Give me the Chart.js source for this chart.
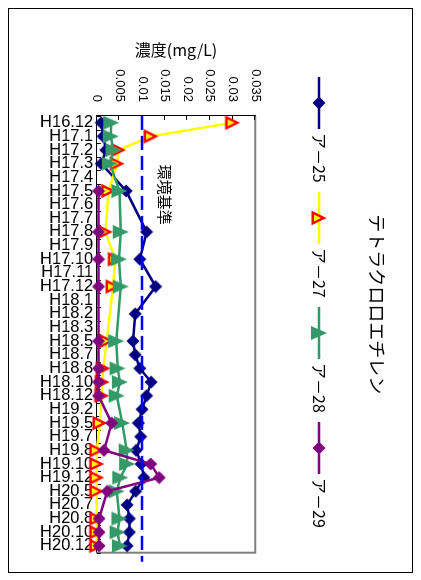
<!DOCTYPE html>
<html><head><meta charset="utf-8">
<script src="https://cdn.jsdelivr.net/npm/chart.js@4.4.1/dist/chart.umd.min.js"></script>
<style>
html,body{margin:0;padding:0;background:#fff;}
#page{position:relative;width:421px;height:580px;overflow:hidden;background:#fff;}
#rot{position:absolute;left:0;top:0;width:580px;height:421px;transform-origin:0 0;transform:translate(421px,0) rotate(90deg);}
#frame{position:absolute;left:8px;top:8px;width:403px;height:563px;border:1px solid #000;pointer-events:none;}
</style></head>
<body><div id="page"><div id="rot"><canvas id="c" width="580" height="421"></canvas></div><div id="frame"></div></div>
<script>
const chartTitle = 'テトラクロロエチレン';
const valueAxisTitle = '濃度(mg/L)';
const categories = ['H16.12','H17.1','H17.2','H17.3','H17.4','H17.5','H17.6','H17.7','H17.8','H17.9','H17.10','H17.11','H17.12','H18.1','H18.2','H18.3','H18.5','H18.7','H18.8','H18.10','H18.12','H19.2','H19.5','H19.7','H19.8','H19.10','H19.12','H20.5','H20.7','H20.8','H20.10','H20.12'];
const seriesNames = ['ア－25','ア－27','ア－28','ア－29'];
const a25 = [0.001,0.0014,0.002,0.001,null,0.0065,null,null,0.011,null,0.0095,null,0.013,null,0.0085,null,0.008,0.0085,0.0095,0.012,0.011,0.01,0.0092,0.0097,0.0087,0.0098,0.0104,0.0086,0.0067,0.0072,0.0072,0.0067];
const a27 = [0.03,0.012,0.0048,0.0045,null,0.0026,null,null,0.0019,null,0.0041,null,0.0036,null,null,null,0.0022,null,0.0014,0.0012,0.0011,null,0.0007,null,0,0,0,0,null,0,0,0];
const a28 = [0.0032,0.0031,0.0037,0.0029,null,0.005,null,null,0.0053,null,0.0049,null,0.0053,null,null,null,0.0043,null,0.0046,0.0051,0.0044,null,0.0056,null,0.0066,0.0067,0.0052,0.0044,null,0.005,0.0046,0.0051];
const a29 = [null,null,null,null,null,0.0004,null,null,0.0004,null,0.0004,null,0.0004,null,null,null,0.0004,null,0.0004,0.0004,0.0004,null,0.0033,null,0.0016,0.0119,0.0138,0.0023,null,0.0005,0.0005,0.0005];
const standardValue = 0.01;
const standardLabel = '環境基準';
const valueTicks = ['0','0.005','0.01','0.015','0.02','0.025','0.03','0.035'];

const CJK = '"Noto Sans CJK JP"';
const LAT = '"Liberation Sans"';

function makeDiamond(color){
  const c=document.createElement('canvas');c.width=14;c.height=14;
  const g=c.getContext('2d');g.beginPath();g.moveTo(7,0.5);g.lineTo(13.5,7);g.lineTo(7,13.5);g.lineTo(0.5,7);g.closePath();
  g.fillStyle=color;g.fill();return c;
}
function makeTriFill(color){
  const c=document.createElement('canvas');c.width=16;c.height=18;
  const g=c.getContext('2d');g.beginPath();g.moveTo(8,1);g.lineTo(15,17);g.lineTo(1,17);g.closePath();
  g.fillStyle=color;g.fill();return c;
}
function makeTriOutline(fill,stroke){
  const c=document.createElement('canvas');c.width=16;c.height=18;
  const g=c.getContext('2d');g.beginPath();g.moveTo(8,4.2);g.lineTo(13.4,15.3);g.lineTo(2.6,15.3);g.closePath();
  g.fillStyle=fill;g.fill();g.lineWidth=2.4;g.lineJoin='miter';g.strokeStyle=stroke;g.stroke();return c;
}
function makeLegendIcon(lineColor, marker){
  const c=document.createElement('canvas');c.width=52;c.height=18;
  const g=c.getContext('2d');g.strokeStyle=lineColor;g.lineWidth=2.5;
  g.beginPath();g.moveTo(0,9);g.lineTo(52,9);g.stroke();
  g.drawImage(marker,26-marker.width/2,9-marker.height/2);return c;
}

const lineColors = ['#000080','#FFFF00','#339966','#800080'];
const markers = [makeDiamond('#000080'), makeTriOutline('#FFFF00','#FF0000'), makeTriFill('#339966'), makeDiamond('#800080')];
const legendIcons = markers.map((m,i)=>makeLegendIcon(lineColors[i], m));
const seriesData = [a25, a27, a28, a29];

const datasets = seriesData.map((d,i)=>({
  label: seriesNames[i], data: d, xAxisID:'x', yAxisID:'y',
  borderColor: lineColors[i], backgroundColor: lineColors[i], borderWidth: 2.5,
  pointStyle: markers[i], pointRadius: 7, pointHoverRadius: 7,
  spanGaps: true, clip: false, tension: 0, order: 4 - i
}));

const decor = {
  id: 'decor',
  beforeDatasetsDraw(chart){
    const {ctx, chartArea:a, scales:{x,y}} = chart;
    ctx.save();
    ctx.strokeStyle='#808080'; ctx.lineWidth=2;
    ctx.beginPath(); ctx.moveTo(a.left,a.top); ctx.lineTo(a.right,a.top); ctx.lineTo(a.right,a.bottom+0.5); ctx.stroke();
    ctx.strokeStyle='#000'; ctx.lineWidth=1;
    ctx.beginPath();
    y.ticks.forEach(t=>{const p=Math.round(y.getPixelForValue(t.value))+0.5; ctx.moveTo(a.left,p); ctx.lineTo(a.left+4,p);});
    const step = x.getPixelForValue(1)-x.getPixelForValue(0);
    for(let i=0;i<=categories.length;i++){const p=Math.round(x.getPixelForValue(0)+(i-0.5)*step)+0.5; ctx.moveTo(p,a.bottom); ctx.lineTo(p,a.bottom-4);}
    ctx.stroke();
    ctx.restore();
  },
  afterDatasetsDraw(chart){
    const {ctx, chartArea:a, scales:{x,y}} = chart;
    const p = y.getPixelForValue(standardValue);
    ctx.save();
    ctx.strokeStyle='#0000FF'; ctx.lineWidth=2.5; ctx.setLineDash([14,6]);
    ctx.beginPath(); ctx.moveTo(a.left,p); ctx.lineTo(a.right+9,p); ctx.stroke();
    ctx.setLineDash([]);
    ctx.fillStyle='#000'; ctx.font='15px '+CJK; ctx.textAlign='left'; ctx.textBaseline='middle';
    ctx.fillText(standardLabel, x.getPixelForValue(3)+1, p-23);
    ctx.restore();
  }
};

new Chart(document.getElementById('c'), {
  type: 'line',
  data: { labels: categories, datasets },
  options: {
    responsive: false, animation: false, events: [],
    layout: { padding: { top: 10, left: 56, right: 27.3, bottom: 0 } },
    scales: {
      x: {
        type: 'category', position: 'bottom', offset: true,
        grid: { display: false, drawTicks: false },
        border: { display: true, color: '#000', width: 1 },
        ticks: { autoSkip: false, minRotation: 90, maxRotation: 90, padding: 3.5, color: '#000', font: { family: LAT, size: 16.5 } },
        afterFit(s){ s.height = 96.8; }
      },
      xTop: {
        type: 'linear', axis: 'x', position: 'top', display: true,
        grid: { display: false, drawTicks: false }, border: { display: false },
        ticks: { display: false },
        afterFit(s){ s.height = 45.7; }
      },
      y: {
        type: 'linear', position: 'left', min: 0, max: 0.035,
        grid: { display: false, drawTicks: false },
        border: { display: true, color: '#000', width: 1 },
        ticks: { stepSize: 0.005, padding: 14, color: '#000', font: { family: LAT, size: 13 }, callback: (v,i)=>valueTicks[i] },
        title: { display: true, text: valueAxisTitle, color: '#000', font: { family: CJK, size: 16 }, padding: { top: -15.6, bottom: 0 } },
        afterFit(s){ s.width = 59.9; }
      }
    },
    plugins: {
      title: { display: true, text: chartTitle, color: '#000', font: { family: CJK, size: 18, weight: 'normal' }, padding: { top: 23.2, bottom: 25.9 } },
      legend: {
        display: true, position: 'top', align: 'center',
        labels: {
          usePointStyle: true, pointStyleWidth: 44, padding: 13.3, color: '#000',
          font: { family: CJK, size: 16 },
          generateLabels(chart){
            return chart.data.datasets.map((ds,i)=>({ text: ds.label, pointStyle: legendIcons[i], fillStyle: 'rgba(0,0,0,0)', strokeStyle: 'rgba(0,0,0,0)', lineWidth: 0, hidden: false, datasetIndex: i, fontColor: '#000' }));
          }
        }
      },
      tooltip: { enabled: false }
    }
  },
  plugins: [decor]
});
</script></body></html>
